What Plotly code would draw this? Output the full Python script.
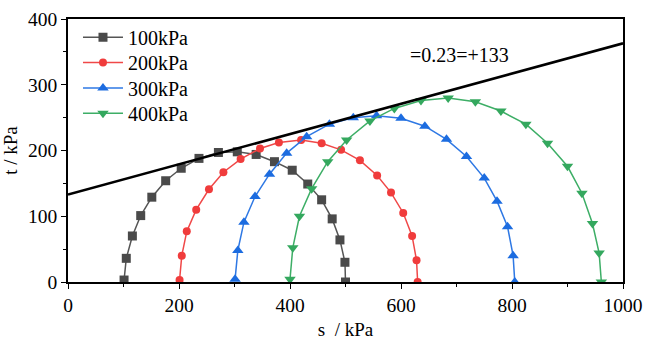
import plotly.graph_objects as go

# Stress-path points (s, t) for each confining pressure
s_100 = [101, 105, 116, 131, 151, 176, 204, 236, 271, 305, 339, 372, 404, 432, 457, 476, 490, 499, 500]
t_100 = [3, 36, 70, 101, 129, 154, 173, 188, 197, 198, 194, 183, 170, 149, 125, 96, 64, 30, 0]

s_200 = [201, 205, 214, 231, 254, 280, 311, 346, 380, 420, 457, 492, 526, 557, 582, 604, 620, 628, 630]
t_200 = [3, 40, 77, 110, 141, 167, 187, 203, 212, 216, 211, 201, 185, 162, 136, 105, 70, 33, 0]

s_300 = [301, 306, 317, 337, 363, 394, 430, 471, 514, 556, 600, 643, 682, 718, 750, 773, 792, 802, 805]
t_300 = [4, 48, 91, 130, 164, 196, 221, 240, 250, 253, 249, 237, 217, 191, 158, 123, 84, 40, 0]

s_400 = [400, 405, 417, 439, 468, 502, 544, 588, 636, 685, 734, 780, 825, 864, 900, 926, 945, 957, 961]
t_400 = [4, 52, 100, 142, 183, 216, 245, 264, 276, 280, 274, 260, 240, 211, 176, 135, 89, 44, 0]

series_names = ["100kPa", "200kPa", "300kPa", "400kPa"]

# Failure envelope t = a*s + b
env_slope = 0.23
env_intercept = 133
env_s = [0, 1000]

FONT = "Liberation Serif"

fig = go.Figure()

styles = [
    (s_100, t_100, "#4a4a4a", "#555555", "square", 9),
    (s_200, t_200, "#F03C3C", "#F04848", "circle", 8),
    (s_300, t_300, "#1C6CE0", "#2E78E4", "triangle-up", 10),
    (s_400, t_400, "#34A85E", "#3DAE66", "triangle-down", 10),
]

legend_ids = ["legend", "legend2", "legend3", "legend4"]
legend_rows = [0.931, 0.835, 0.738, 0.642]

for name, lid, (xs, ys, mcol, lcol, sym, size) in zip(series_names, legend_ids, styles):
    fig.add_trace(go.Scatter(
        x=xs, y=ys, name=name, mode="lines+markers", legend=lid,
        line=dict(color=lcol, width=1.5),
        marker=dict(symbol=sym, size=size, color=mcol),
    ))

fig.add_trace(go.Scatter(
    x=env_s, y=[env_slope * s + env_intercept for s in env_s],
    mode="lines", line=dict(color="black", width=2.5),
    showlegend=False, hoverinfo="skip",
))

fig.add_annotation(
    x=705, y=345, xref="x", yref="y", showarrow=False,
    text=f"={env_slope}=+{env_intercept}",
    font=dict(family=FONT, size=20, color="black"),
)

axis_common = dict(
    showgrid=False, zeroline=False, showline=True, linecolor="black",
    linewidth=1.5, mirror=True, ticks="outside", ticklen=5, tickwidth=1.2,
    tickcolor="black", tickfont=dict(family=FONT, size=19.5, color="black"),
    automargin=False,
)

fig.update_xaxes(
    range=[0, 1000], dtick=200, tick0=0,
    minor=dict(dtick=100, ticks="outside", ticklen=3, tickcolor="black"),
    title=dict(text="s  / kPa", font=dict(family=FONT, size=19, color="black"), standoff=8),
    **axis_common,
)
fig.update_yaxes(
    range=[0, 400], dtick=100, tick0=0,
    minor=dict(dtick=50, ticks="outside", ticklen=3, tickcolor="black"),
    title=dict(text="t / kPa", font=dict(family=FONT, size=19, color="black"), standoff=8),
    **axis_common,
)

legend_style = dict(
    x=0.018, xanchor="left", yanchor="middle",
    bgcolor="rgba(0,0,0,0)", font=dict(family=FONT, size=20, color="black"),
    itemwidth=40,
)

fig.update_layout(
    width=646, height=344,
    margin=dict(l=68, r=23, t=19, b=62),
    paper_bgcolor="white", plot_bgcolor="white",
    **{lid: dict(y=ly, **legend_style) for lid, ly in zip(legend_ids, legend_rows)},
)

fig.write_html("out.html")
